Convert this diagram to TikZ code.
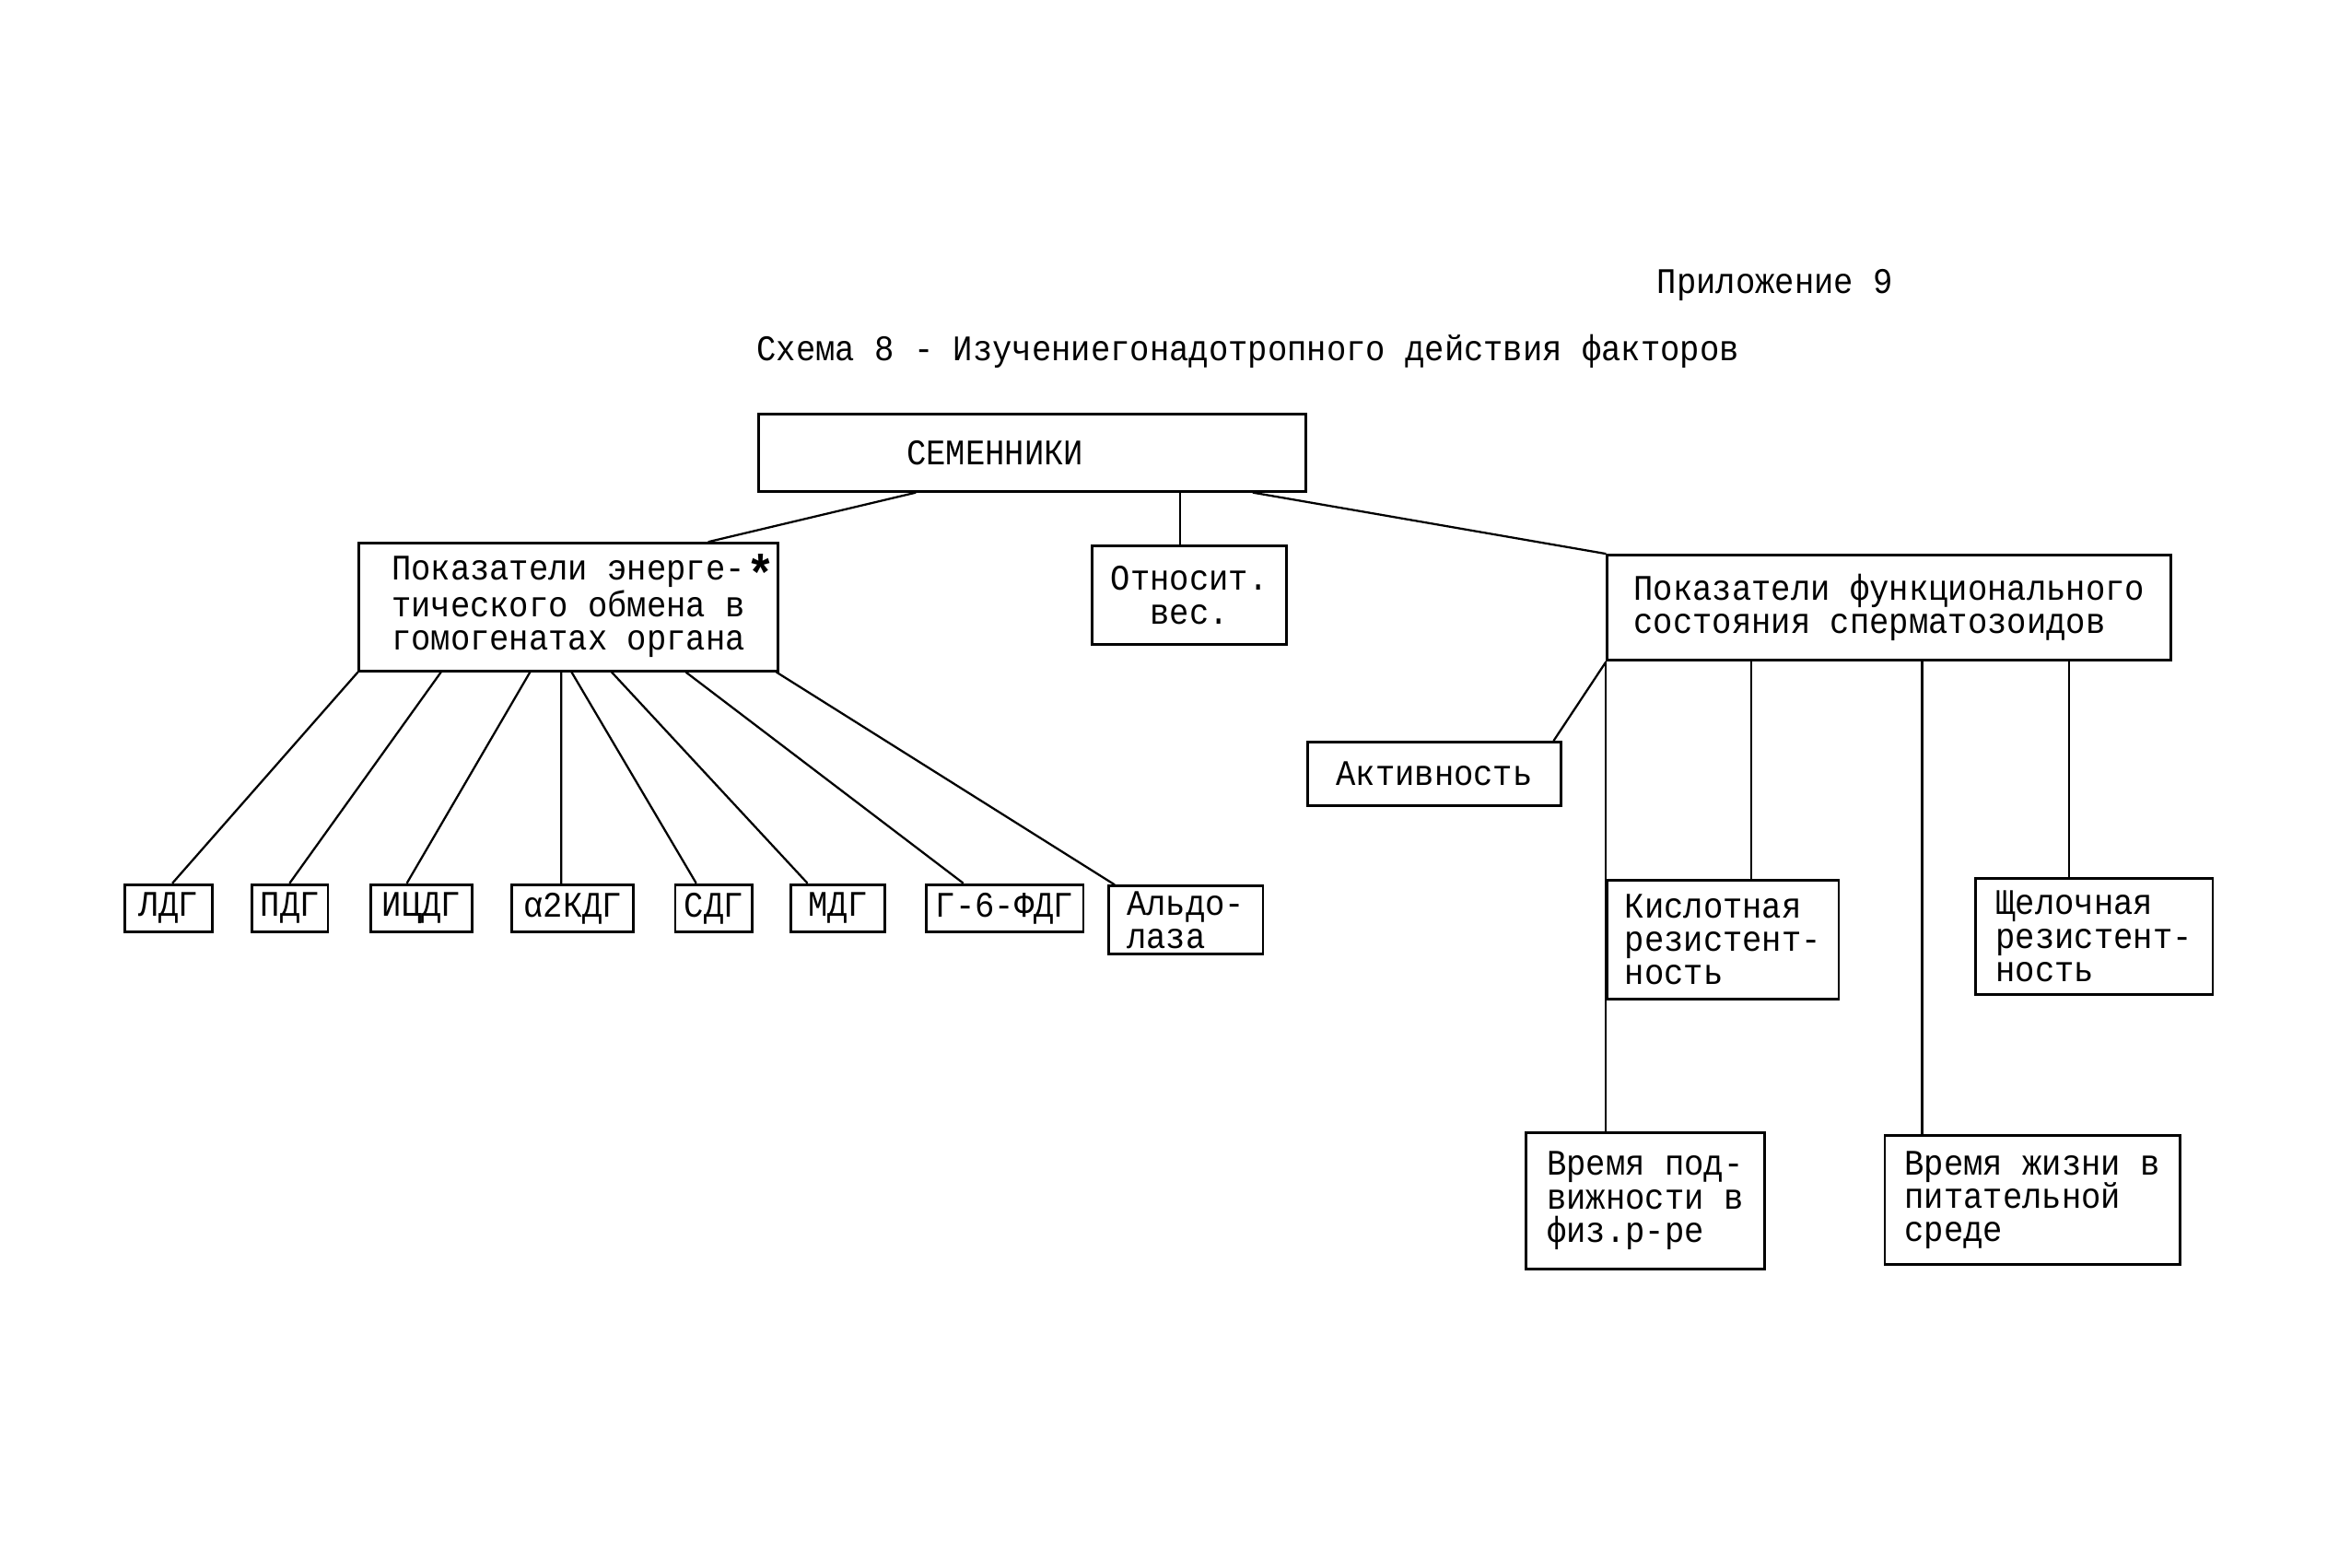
\documentclass[tikz,border=0pt]{standalone}
\usepackage{fontspec}
\setmainfont{Liberation Mono}[FakeStretch=0.91]
\usetikzlibrary{positioning,calc}
\tikzset{
  sch/box/.style={draw, line width=1pt, inner sep=1pt, align=left},
  sch/leaf/.style={sch/box, align=center, minimum height=0.64cm},
  sch/line/.style={line width=0.8pt},
  sch/head/.style={inner sep=0pt}
}

\begin{document}
\begin{tikzpicture}[x=0.02cm, y=-0.02cm, font=\fontsize{13.8}{12.8}\selectfont]
  \useasboundingbox (0,0) rectangle (1568,1056);

  \node[sch/head] (app) at (1196,192) {Приложение 9};
  \node[sch/head] (title) at (841,237) {Схема 8 - Изучениегонадотропного действия факторов};

  \node[sch/box, text width=3.38cm, inner xsep=2cm, minimum height=1.04cm] (sem) at (695.5,305) {СЕМЕННИКИ};

  \node[sch/box, minimum width=5.64cm, minimum height=1.72cm] (energ) at (383,409)
    {Показатели энерге-\\тического обмена в\\гомогенатах органа};
  \node[sch/head, font=\fontsize{20}{20}\selectfont\bfseries] (star) at (513,386) {*};
  \node[sch/box, align=center, minimum width=2.62cm, minimum height=1.32cm] (otn) at (801.5,401) {Относит.\\вес.};
  \node[sch/box, minimum width=7.6cm, minimum height=1.42cm] (func) at (1273,409.5)
    {Показатели функционального\\состояния сперматозоидов};

  % ферменты
  \node[sch/leaf, minimum width=1.18cm] (ldg) at (113.5,612) {ЛДГ};
  \node[sch/leaf, minimum width=1.02cm] (pdg) at (195.5,612) {ПДГ};
  \node[sch/leaf, minimum width=1.36cm] (icdg) at (284,612) {ИЦДГ};
  \node[sch/leaf, minimum width=1.64cm] (akdg) at (386,612) {α2КДГ};
  \node[sch/leaf, minimum width=1.04cm] (sdg) at (481,612) {СДГ};
  \node[sch/leaf, minimum width=1.26cm] (mdg) at (564.5,612) {МДГ};
  \node[sch/leaf, minimum width=2.12cm] (gfdg) at (677,612) {Г-6-ФДГ};
  \node[sch/box, minimum width=2.08cm, minimum height=0.92cm] (aldo) at (799,620) {Альдо-\\лаза};

  % сперматозоиды
  \node[sch/box, align=center, minimum width=3.42cm, minimum height=0.86cm] (akt) at (966.5,521.5) {Активность};
  \node[sch/box, minimum width=3.12cm, minimum height=1.6cm] (kisl) at (1161,633) {Кислотная\\резистент-\\ность};
  \node[sch/box, minimum width=3.2cm, minimum height=1.56cm] (shch) at (1411,631) {Щелочная\\резистент-\\ность};
  \node[sch/box, minimum width=3.22cm, minimum height=1.84cm] (vrpod) at (1108.5,809) {Время под-\\вижности в\\физ.р-ре};
  \node[sch/box, minimum width=3.98cm, minimum height=1.74cm] (vrzh) at (1369.5,808.5) {Время жизни в\\питательной\\среде};

  \draw[sch/line] ($(sem.south west)+(107,0)$) -- ($(energ.north west)+(236,0)$);
  \draw[sch/line] ($(otn.north west)+(60,0)$) coordinate (o) -- (o |- sem.south);
  \draw[sch/line] ($(sem.south west)+(334,0)$) -- (func.north west);

  \foreach \n/\a/\b in {ldg/0/33, pdg/56/26, icdg/116/25, akdg/137/34,
                        sdg/144/15, mdg/171/12, gfdg/221/26, aldo/282/5}
    \draw[sch/line] ($(energ.south west)+(\a,0)$) -- ($(\n.north west)+(\b,0)$);

  \draw[sch/line] (func.south west) -- ($(akt.north east)+(-6,0)$);
  \draw[sch/line] (func.south west) -- (func.south west |- vrpod.north);
  \foreach \n/\a in {kisl/98, vrzh/213, shch/312}
    \draw[sch/line] ($(func.south west)+(\a,0)$) coordinate (t) -- (t |- \n.north);
\end{tikzpicture}
\end{document}
